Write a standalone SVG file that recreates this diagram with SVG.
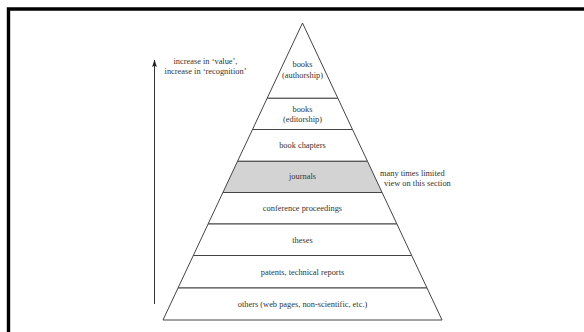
<svg xmlns="http://www.w3.org/2000/svg" width="584" height="332" viewBox="0 0 584 332">
  <style>
    .tier { fill: #ffffff; stroke: #444444; stroke-width: 1; stroke-linejoin: miter; }
    .shaded { fill: #d3d3d3; }
    .lbl { font-family: "Liberation Serif", "DejaVu Serif", serif; font-size: 8.4px; fill: #333333; text-anchor: middle; }
    .note { font-family: "Liberation Serif", "DejaVu Serif", serif; font-size: 8.4px; fill: #333333; }
  </style>
  <defs>
    <marker id="arrowhead" markerWidth="8" markerHeight="6" refX="7" refY="3" orient="auto" markerUnits="userSpaceOnUse" viewBox="0 0 8 6">
      <path d="M7.5 3 L0 0.6 L1.3 3 L0 5.4 Z" fill="#222222"/>
    </marker>
  </defs>

  <rect x="0" y="0" width="584" height="332" fill="#ffffff"/>
  <!-- frame: top and left edges -->
  <path d="M8.5 332 V9 H584" fill="none" stroke="#000000" stroke-width="3.4" stroke-linejoin="miter"/>

  <!-- pyramid tiers, top to bottom -->
  <g id="tier-books-authorship">
    <polygon class="tier" points="302.5,23 337.9,98.3 267.1,98.3"/>
    <text class="lbl" x="302.5" y="67">books</text>
    <text class="lbl" x="302.5" y="78">(authorship)</text>
  </g>
  <g id="tier-books-editorship">
    <polygon class="tier" points="267.1,98.3 337.9,98.3 352.5,129.5 252.5,129.5"/>
    <text class="lbl" x="302.5" y="111.8">books</text>
    <text class="lbl" x="302.5" y="122.2">(editorship)</text>
  </g>
  <g id="tier-book-chapters">
    <polygon class="tier" points="252.5,129.5 352.5,129.5 367.5,161.3 237.5,161.3"/>
    <text class="lbl" x="302.5" y="148">book chapters</text>
  </g>
  <g id="tier-journals">
    <polygon class="tier shaded" points="237.5,161.3 367.5,161.3 382.1,192.5 222.9,192.5"/>
    <text class="lbl" x="302.5" y="179">journals</text>
  </g>
  <g id="tier-conference-proceedings">
    <polygon class="tier" points="222.9,192.5 382.1,192.5 396.9,224 208.1,224"/>
    <text class="lbl" x="302.5" y="211">conference proceedings</text>
  </g>
  <g id="tier-theses">
    <polygon class="tier" points="208.1,224 396.9,224 411.7,255.5 193.3,255.5"/>
    <text class="lbl" x="302.5" y="243.3">theses</text>
  </g>
  <g id="tier-patents">
    <polygon class="tier" points="193.3,255.5 411.7,255.5 427,288 178,288"/>
    <text class="lbl" x="302.5" y="275">patents, technical reports</text>
  </g>
  <g id="tier-others">
    <polygon class="tier" points="178,288 427,288 442,320 163,320"/>
    <text class="lbl" x="302.5" y="307">others (web pages, non-scientific, etc.)</text>
  </g>

  <!-- side notes -->
  <g id="note-value">
    <text class="lbl" x="205.5" y="63.5">increase in ‘value’,</text>
    <text class="lbl" x="205.5" y="73.5">increase in ‘recognition’</text>
  </g>
  <g id="note-journals">
    <text class="note" x="380" y="176">many times limited</text>
    <text class="note" x="384" y="186">view on this section</text>
  </g>

  <!-- connectors -->
  <g id="connectors">
    <line x1="154.5" y1="304" x2="154.5" y2="60" stroke="#333333" stroke-width="1" marker-end="url(#arrowhead)"/>
  </g>
</svg>
